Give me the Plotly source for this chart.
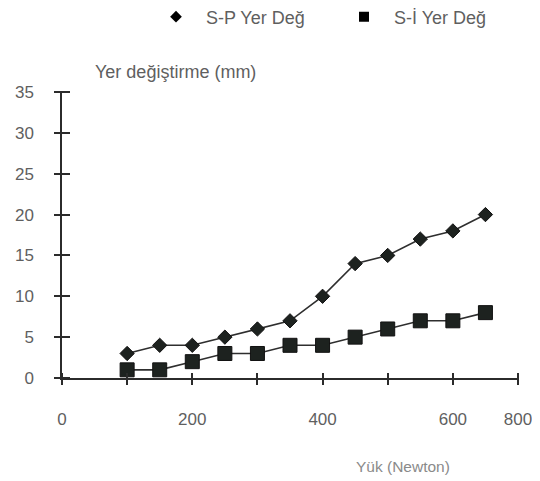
import plotly.graph_objects as go

# ---- data ----
load_n = [100, 150, 200, 250, 300, 350, 400, 450, 500, 550, 600, 650]
sp_disp = [3, 4, 4, 5, 6, 7, 10, 14, 15, 17, 18, 20]
si_disp = [1, 1, 2, 3, 3, 4, 4, 5, 6, 7, 7, 8]
series_names = ["S-P Yer Değ", "S-İ Yer Değ"]

x_tick_marks = [0, 100, 200, 300, 400, 500, 600, 700]
x_label_vals = [0, 200, 400, 600, 700]
x_label_text = ["0", "200", "400", "600", "800"]
y_ticks = [0, 5, 10, 15, 20, 25, 30, 35]

x_title = "Yük (Newton)"
y_title = "Yer değiştirme (mm)"

FONT = "Liberation Sans, Arial, Helvetica, sans-serif"
DARK = "#1d221f"
AXIS = "#2b2b2b"
TXT = "#5f5f5f"

# page body has an 8px margin -> compensate so the plot lands where the reference has it
OFF = 8
W, H = 540, 481
PW, PH = 456, 286
L, T = 62 - OFF, 92 - OFF
R, B = W - L - PW, H - T - PH
SX0, SY0 = 62, 378  # on-screen position of the axes origin

fig = go.Figure()

fig.add_trace(go.Scatter(
    x=load_n, y=sp_disp, mode="lines+markers", showlegend=False,
    line=dict(color="#2e2e2e", width=1.6),
    marker=dict(symbol="diamond", size=11, color=DARK, line=dict(color="#111", width=1)),
))
fig.add_trace(go.Scatter(
    x=load_n, y=si_disp, mode="lines+markers", showlegend=False,
    line=dict(color="#2e2e2e", width=1.6),
    marker=dict(symbol="square", size=14, color=DARK, line=dict(color="#111", width=1)),
))
# legend entries (markers only)
fig.add_trace(go.Scatter(x=[None], y=[None], mode="markers", name=series_names[0],
                         marker=dict(symbol="diamond", size=9, color="#000")))
fig.add_trace(go.Scatter(x=[None], y=[None], mode="markers", name=series_names[1],
                         marker=dict(symbol="square", size=10, color="#000")))
# empty traces hosting the overlay axes (crossing ticks and shifted labels)
fig.add_trace(go.Scatter(x=[None], y=[None], xaxis="x2", yaxis="y", showlegend=False, hoverinfo="skip"))
fig.add_trace(go.Scatter(x=[None], y=[None], xaxis="x3", yaxis="y", showlegend=False, hoverinfo="skip"))
fig.add_trace(go.Scatter(x=[None], y=[None], xaxis="x", yaxis="y2", showlegend=False, hoverinfo="skip"))

xr = [0, 700]
yr = [0, 35]
XT = 6   # half length of crossing x ticks (px)
YT = 8   # half length of crossing y ticks (px)

fig.update_layout(
    width=W, height=H,
    margin=dict(l=L, r=R, t=T, b=B, autoexpand=False),
    paper_bgcolor="white", plot_bgcolor="rgba(0,0,0,0)",
    font=dict(family=FONT, size=17, color=TXT),
    xaxis=dict(range=xr, showline=True, linecolor=AXIS, linewidth=1.5,
               ticks="", showticklabels=False, automargin=False,
               showgrid=False, zeroline=False),
    xaxis2=dict(range=xr, overlaying="x", anchor="free", position=XT / PH, side="bottom",
                showline=False, tickmode="array", tickvals=x_tick_marks,
                ticks="outside", ticklen=2 * XT, tickwidth=1.5, tickcolor=AXIS,
                showticklabels=False, showgrid=False, zeroline=False, automargin=False),
    xaxis3=dict(range=xr, overlaying="x", anchor="y", showline=False,
                tickmode="array", tickvals=x_label_vals, ticktext=x_label_text,
                ticks="", ticklabelstandoff=29, tickfont=dict(size=17, color=TXT),
                showgrid=False, zeroline=False, automargin=False),
    yaxis=dict(range=yr, showline=True, linecolor=AXIS, linewidth=1.5,
               tickmode="array", tickvals=y_ticks, ticks="",
               ticklabelstandoff=23, tickfont=dict(size=17, color=TXT),
               showgrid=False, zeroline=False, automargin=False),
    yaxis2=dict(range=yr, overlaying="y", anchor="free", position=YT / PW, side="left",
                showline=False, tickmode="array", tickvals=y_ticks,
                ticks="outside", ticklen=2 * YT, tickwidth=1.5, tickcolor=AXIS,
                showticklabels=False, showgrid=False, zeroline=False, automargin=False),
    legend=dict(orientation="h", x=(174 - 28 - SX0) / PW, xanchor="left",
                y=1 + (SY0 - PH - 17) / PH, yanchor="middle",
                itemwidth=50, entrywidth=123, font=dict(size=18, color=TXT),
                bgcolor="rgba(0,0,0,0)"),
    annotations=[
        dict(text=y_title, xref="paper", yref="paper", x=(93 - SX0) / PW,
             y=(SY0 - 72) / PH, xanchor="left", yanchor="middle", showarrow=False,
             font=dict(size=18, color=TXT)),
        dict(text=x_title, xref="paper", yref="paper", x=(403 - SX0) / PW,
             y=-(466 - SY0) / PH, xanchor="center", yanchor="middle", showarrow=False,
             font=dict(size=15.5, color="#8a8a8a")),
    ],
)

fig.write_html("out.html")
